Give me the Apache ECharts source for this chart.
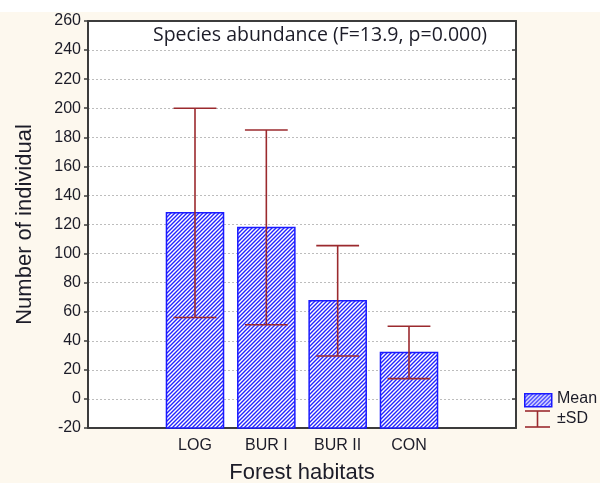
<!DOCTYPE html>
<html>
<head>
<meta charset="utf-8">
<script src="https://cdn.jsdelivr.net/npm/echarts@6/dist/echarts.min.js"></script>
<style>
html,body{margin:0;padding:0;background:#fdf8ee;}
#chart{width:600px;height:483px;}
</style>
</head>
<body>
<div id="chart"></div>
<script>
// ---- data ----
const categories = ['LOG', 'BUR I', 'BUR II', 'CON'];
const means = [128, 118, 67.5, 32];
const sds = [72, 67, 38, 18];
const yTicks = { min: -20, max: 260, step: 20 };
const titleText = 'Species abundance (F=13.9, p=0.000)';
const xTitle = 'Forest habitats';
const yTitle = 'Number of individual';

// ---- hatch pattern ----
function makeHatch() {
  const c = document.createElement('canvas');
  c.width = 4; c.height = 4;
  const g = c.getContext('2d');
  g.fillStyle = '#ffffff';
  g.fillRect(0, 0, 4, 4);
  g.strokeStyle = '#2424ff';
  g.lineWidth = 1.4;
  g.beginPath();
  g.moveTo(-1, 5); g.lineTo(5, -1);
  g.moveTo(-1, 1); g.lineTo(1, -1);
  g.moveTo(3, 5); g.lineTo(5, 3);
  g.stroke();
  return c;
}
const hatch = { image: makeHatch(), repeat: 'repeat' };

const axisCats = [''].concat(categories).concat(['']);
const barData = means.map((m, i) => [i + 1, m, sds[i]]);
const errColor = '#9b2a2e';
const axisColor = '#3c3c3c';
const textColor = '#1c1c28';

const chart = echarts.init(document.getElementById('chart'), null, { renderer: 'canvas' });
chart.setOption({
  backgroundColor: '#fdf8ee',
  animation: false,
  grid: { left: 88, right: 84, top: 21, bottom: 55, backgroundColor: '#ffffff', show: true, borderWidth: 0,
          containLabel: false, outerBoundsMode: 'none' },
  xAxis: [
    {
      type: 'category', data: axisCats, position: 'bottom', boundaryGap: true,
      axisLine: { onZero: false, lineStyle: { color: axisColor, width: 2 } },
      axisTick: { alignWithLabel: true, inside: true, length: 4, lineStyle: { color: axisColor, width: 1.5 } },
      axisLabel: { color: textColor, fontFamily: 'Liberation Sans', fontSize: 16, margin: 10 },
      name: xTitle, nameLocation: 'middle', nameGap: 34,
      nameTextStyle: { color: textColor, fontFamily: 'Liberation Sans', fontSize: 22 },
      splitLine: { show: false }
    },
    {
      type: 'category', data: axisCats, position: 'top', boundaryGap: true,
      axisLine: { onZero: false, lineStyle: { color: axisColor, width: 2 } },
      axisTick: { alignWithLabel: true, inside: true, length: 4, lineStyle: { color: axisColor, width: 1.5 } },
      axisLabel: { show: false }
    }
  ],
  yAxis: [
    {
      type: 'value', min: yTicks.min, max: yTicks.max, interval: yTicks.step, position: 'left',
      axisLine: { show: true, onZero: false, lineStyle: { color: axisColor, width: 2 } },
      axisTick: { show: true, length: 4, lineStyle: { color: axisColor, width: 1.5 } },
      axisLabel: { color: textColor, fontFamily: 'Liberation Sans', fontSize: 16, margin: 7 },
      splitLine: { show: true, lineStyle: { color: '#bdbdbd', type: [2, 2], width: 1 } },
      name: yTitle, nameLocation: 'middle', nameGap: 52,
      nameTextStyle: { color: textColor, fontFamily: 'Liberation Sans', fontSize: 22 }
    },
    {
      type: 'value', min: yTicks.min, max: yTicks.max, interval: yTicks.step, position: 'right',
      axisLine: { show: true, onZero: false, lineStyle: { color: axisColor, width: 2 } },
      axisTick: { show: true, inside: true, length: 4, lineStyle: { color: axisColor, width: 1.5 } },
      axisLabel: { show: false },
      splitLine: { show: false }
    }
  ],
  series: [
    {
      type: 'custom', xAxisIndex: 0, yAxisIndex: 0, data: barData, z: 2,
      encode: { x: 0, y: 1 },
      renderItem: function (params, api) {
        const xi = api.value(0), m = api.value(1);
        const top = api.coord([xi, m]);
        const base = api.coord([xi, yTicks.min]);
        const bw = api.size([1, 0])[0] * 0.8;
        return {
          type: 'rect',
          shape: { x: top[0] - bw / 2, y: top[1], width: bw, height: base[1] - top[1] },
          style: { fill: hatch, stroke: '#1a1aff', lineWidth: 1.5 }
        };
      }
    },
    {
      type: 'custom', xAxisIndex: 0, yAxisIndex: 0, data: barData, z: 3,
      encode: { x: 0, y: 1 },
      renderItem: function (params, api) {
        const xi = api.value(0), m = api.value(1), sd = api.value(2);
        const hi = api.coord([xi, m + sd]);
        const lo = api.coord([xi, m - sd]);
        const cw = api.size([1, 0])[0] * 0.3;
        const st = { stroke: errColor, lineWidth: 1.6 };
        return {
          type: 'group',
          children: [
            { type: 'line', shape: { x1: hi[0], y1: hi[1], x2: lo[0], y2: lo[1] }, style: st },
            { type: 'line', shape: { x1: hi[0] - cw, y1: hi[1], x2: hi[0] + cw, y2: hi[1] }, style: st },
            { type: 'line', shape: { x1: lo[0] - cw, y1: lo[1], x2: lo[0] + cw, y2: lo[1] }, style: st }
          ]
        };
      }
    }
  ],
  graphic: [
    { type: 'rect', left: 0, top: 0, shape: { width: 600, height: 12 }, style: { fill: '#ffffff' }, z: -1 },
    { type: 'text', left: 153, top: 25, z: 10,
      style: { text: titleText, fill: textColor, font: '19.5px "Open Sans"' } },
    { type: 'rect', left: 524, top: 393, shape: { width: 27, height: 13 }, z: 10,
      style: { fill: hatch, stroke: '#1a1aff', lineWidth: 1.5 } },
    { type: 'text', left: 557, top: 391, z: 10, style: { text: 'Mean', fill: textColor, font: '16px "Liberation Sans"' } },
    { type: 'line', shape: { x1: 525, y1: 411, x2: 550, y2: 411 }, z: 10, style: { stroke: errColor, lineWidth: 1.6 } },
    { type: 'line', shape: { x1: 537.5, y1: 411, x2: 537.5, y2: 427 }, z: 10, style: { stroke: errColor, lineWidth: 1.6 } },
    { type: 'line', shape: { x1: 525, y1: 427, x2: 550, y2: 427 }, z: 10, style: { stroke: errColor, lineWidth: 1.6 } },
    { type: 'text', left: 557, top: 411, z: 10, style: { text: '±SD', fill: textColor, font: '16px "Liberation Sans"' } }
  ]
});
</script>
</body>
</html>
